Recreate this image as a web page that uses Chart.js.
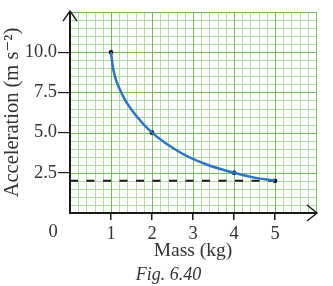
<!DOCTYPE html>
<html>
<head>
<meta charset="utf-8">
<script src="https://cdn.jsdelivr.net/npm/chart.js@4"></script>
<style>
  html, body { margin: 0; padding: 0; background: #fff; }
  #wrap { width: 333px; height: 286px; }
</style>
</head>
<body>
<div id="wrap"><canvas id="accel_chart"></canvas></div>
<script>
// measured points (black dots)
const massKg = [1, 2, 4, 5];
const accel = [10.0, 5.0, 2.5, 2.0];

// blue curve
const curveMass = [1, 1.05, 1.25, 1.63, 2, 2.7, 3.3, 4, 4.5, 5];
const curveAccel = [10, 9, 7.5, 6, 5, 3.75, 3.05, 2.5, 2.2, 2];

// dashed level line
const dashMass = [0, 5];
const dashAccel = [2, 2];

const xTicks = [1, 2, 3, 4, 5];
const yTicks = [2.5, 5, 7.5, 10];
const caption = "Fig. 6.40";

const serif = "'Liberation Serif', 'DejaVu Serif', serif";
const ink = "#1a1a1a";

function toXY(xs, ys) {
	return xs.map((v, i) => ({ x: v, y: ys[i] }));
}

// graph paper background
const paperGrid = {
	id: "paperGrid",
	beforeDraw(chart) {
		const { ctx, chartArea: a, scales: { x, y } } = chart;
		ctx.save();
		const nx = Math.round((x.max - x.min) / 0.2);
		const ny = Math.round((y.max - y.min) / 0.5);
		[false, true].forEach(major => {
			ctx.strokeStyle = major ? "#72bf5b" : "#b2dca8";
			ctx.lineWidth = 1;
			ctx.beginPath();
			for (let i = 0; i <= nx; i++) {
				if ((i % 5 === 0) !== major) continue;
				const px = Math.round(x.getPixelForValue(x.min + i * 0.2)) + 0.5;
				ctx.moveTo(px, a.top);
				ctx.lineTo(px, a.bottom);
			}
			for (let j = 0; j <= ny; j++) {
				if ((j % 5 === 0) !== major) continue;
				const py = Math.round(y.getPixelForValue(y.min + j * 0.5)) + 0.5;
				ctx.moveTo(a.left, py);
				ctx.lineTo(a.right, py);
			}
			ctx.stroke();
		});
		ctx.restore();
	},
	afterDraw(chart) {
		const { ctx, chartArea: a, scales: { x } } = chart;
		ctx.save();
		// arrow heads
		ctx.strokeStyle = ink;
		ctx.lineWidth = 1.5;
		ctx.beginPath();
		ctx.moveTo(a.left - 7, a.top + 9);
		ctx.lineTo(a.left, a.top - 1);
		ctx.lineTo(a.left + 7, a.top + 9);
		ctx.moveTo(a.right - 9, a.bottom - 8);
		ctx.lineTo(a.right + 1, a.bottom);
		ctx.lineTo(a.right - 9, a.bottom + 8);
		ctx.stroke();

		// origin label, set off to the left
		ctx.fillStyle = "#333";
		ctx.font = "18.5px " + serif;
		ctx.textAlign = "center";
		ctx.textBaseline = "top";
		ctx.fillText("0", x.getPixelForValue(0) - 17, a.bottom + 10);

		// caption
		ctx.font = "italic 18px " + serif;
		ctx.textBaseline = "alphabetic";
		ctx.fillText(caption, chart.width / 2 + 2, chart.height - 6);
		ctx.restore();
	}
};

const chart = document.getElementById("accel_chart").getContext("2d");

new Chart(chart, {
	type: "scatter",
	data: {
		datasets: [
			{
				data: toXY(curveMass, curveAccel),
				showLine: true,
				borderColor: "#2b74c7",
				backgroundColor: "#2b74c7",
				borderWidth: 2.5,
				cubicInterpolationMode: "monotone",
				pointRadius: 0,
				fill: false
			},
			{
				data: toXY(dashMass, dashAccel),
				showLine: true,
				borderColor: ink,
				backgroundColor: ink,
				borderWidth: 2,
				borderDash: [8, 8.5],
				pointRadius: 0,
				fill: false
			},
			{
				data: toXY(massKg, accel),
				showLine: false,
				pointRadius: 2.3,
				backgroundColor: "#000",
				borderColor: "#000",
				pointBorderWidth: 0
			}
		]
	},
	options: {
		responsive: true,
		maintainAspectRatio: false,
		animation: false,
		layout: { padding: { top: 5, right: 17, left: 0, bottom: 23 } },
		plugins: {
			legend: { display: false },
			tooltip: { enabled: false }
		},
		scales: {
			x: {
				type: "linear",
				min: 0,
				max: 6,
				afterBuildTicks: s => { s.ticks = xTicks.map(v => ({ value: v })); },
				afterFit: s => { s.height = 50; },
				grid: { drawOnChartArea: false, drawTicks: true, tickLength: 7, color: ink, lineWidth: 1.5 },
				border: { display: true, color: ink, width: 2 },
				ticks: {
					autoSkip: false,
					maxRotation: 0,
					padding: 3,
					color: "#333",
					font: { family: serif, size: 18.5 },
					callback: v => String(v)
				},
				title: {
					display: true,
					text: "Mass (kg)",
					color: "#333",
					font: { family: serif, size: 19.5, lineHeight: "24px" },
					padding: { top: 0, bottom: 0 }
				}
			},
			y: {
				type: "linear",
				min: 0,
				max: 12.5,
				afterBuildTicks: s => { s.ticks = yTicks.map(v => ({ value: v })); },
				afterFit: s => { s.width = 70; },
				grid: { drawOnChartArea: false, drawTicks: true, tickLength: 12, color: ink, lineWidth: 1.2 },
				border: { display: true, color: ink, width: 2 },
				ticks: {
					autoSkip: false,
					padding: 1,
					color: "#333",
					font: { family: serif, size: 18.5 },
					callback: v => Number(v).toFixed(1)
				},
				title: {
					display: true,
					text: "Acceleration (m s⁻²)",
					color: "#333",
					font: { family: serif, size: 20.5, lineHeight: "24px" },
					padding: { top: 1, bottom: 0 }
				}
			}
		}
	},
	plugins: [paperGrid]
});
</script>
</body>
</html>
